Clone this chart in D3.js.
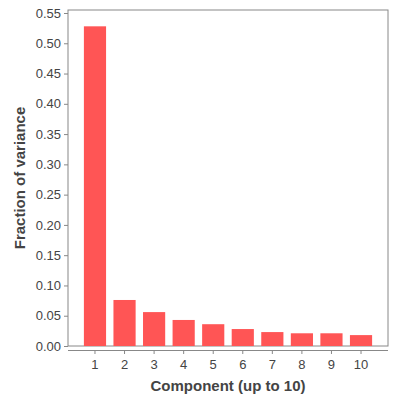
<!DOCTYPE html>
<html><head><meta charset="utf-8">
<script src="https://cdn.jsdelivr.net/npm/d3@7"></script>
<style>body{margin:0;background:#fff}text{font-family:"Liberation Sans",Arial,sans-serif}</style>
</head><body><div id="chart"></div>
<script>
var components = ["1","2","3","4","5","6","7","8","9","10"];
var fractions = [0.528, 0.076, 0.056, 0.043, 0.036, 0.028, 0.023, 0.021, 0.021, 0.018];
var yTicks = [0,0.05,0.1,0.15,0.2,0.25,0.3,0.35,0.4,0.45,0.5,0.55];

var plotLeft = 68, plotRight = 388, plotTop = 10, plotBottom = 346;
var svg = d3.select("#chart").append("svg").attr("width", 400).attr("height", 400);

var x = d3.scaleBand().domain(components).range([80.2, 375.8]).paddingInner(0.25).paddingOuter(0.125);
var y = d3.scaleLinear().domain([0, 0.55]).range([plotBottom, 13]);

svg.append("rect").attr("x", plotLeft).attr("y", plotTop).attr("width", plotRight - plotLeft).attr("height", plotBottom - plotTop)
    .attr("fill", "none").attr("stroke", "#888");

svg.selectAll(".bar").data(fractions).enter().append("rect")
    .attr("x", function(d, i) { return x(components[i]); })
    .attr("y", function(d) { return y(d); })
    .attr("width", x.bandwidth())
    .attr("height", function(d) { return plotBottom - y(d); })
    .attr("fill", "#ff5555");

var yAxis = svg.append("g").attr("transform", "translate(" + plotLeft + ",0)")
    .call(d3.axisLeft(y).tickValues(yTicks).tickFormat(d3.format(".2f")).tickSize(4));
var xAxis = svg.append("g").attr("transform", "translate(0,350)")
    .call(d3.axisBottom(x).tickSize(4).tickSizeOuter(0));
xAxis.select(".domain").attr("d", "M" + plotLeft + ",0.5H" + plotRight);
[yAxis, xAxis].forEach(function(a) {
    a.selectAll("path,line").attr("stroke", "#888");
    a.selectAll("text").attr("fill", "#444").style("font-size", "13px");
});
yAxis.select(".domain").remove();
xAxis.selectAll("text").attr("dy", "0.9em");

svg.append("text").attr("x", (plotLeft + plotRight) / 2).attr("y", 391).attr("text-anchor", "middle")
    .attr("fill", "#444").style("font-size", "15px").style("font-weight", "bold").text("Component (up to 10)");
svg.append("text").attr("transform", "translate(25," + (plotTop + plotBottom) / 2 + ") rotate(-90)")
    .attr("text-anchor", "middle").attr("fill", "#444").style("font-size", "15px").style("font-weight", "bold")
    .text("Fraction of variance");
</script></body></html>
